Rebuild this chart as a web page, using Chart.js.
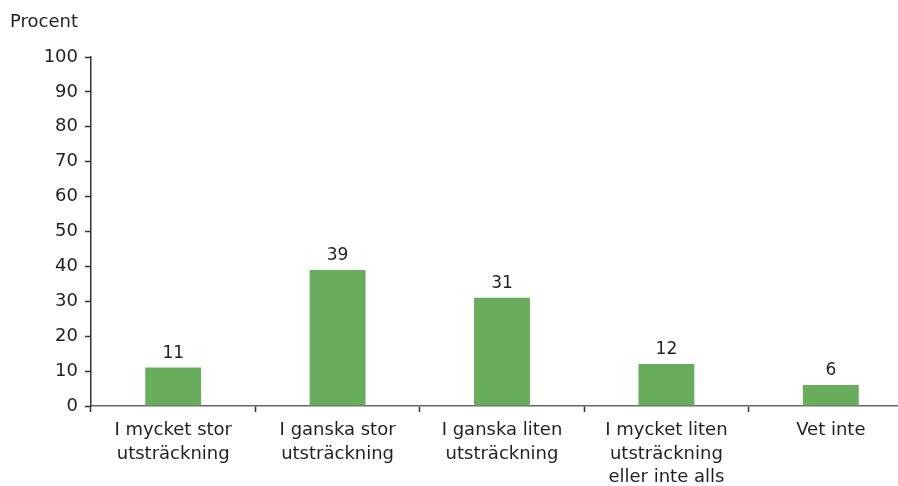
<!DOCTYPE html>
<html>
<head>
	<title>Procent</title>
	<script src="https://cdn.jsdelivr.net/npm/chart.js"></script>
	<style>
		html, body { margin: 0; padding: 0; width: 898px; height: 486px; overflow: hidden; background: #fff; }
		#wrap { width: 930px; height: 486px; }
	</style>
</head>
<body>
	<div id="wrap"><canvas id="myChart" width="930" height="486"></canvas></div>

	<script>
		const categories = [
			['I mycket stor', 'utsträckning'],
			['I ganska stor', 'utsträckning'],
			['I ganska liten', 'utsträckning'],
			['I mycket liten', 'utsträckning', 'eller inte alls'],
			['Vet inte']
		];
		const values = [11, 39, 31, 12, 6];
		const yTicks = [0, 10, 20, 30, 40, 50, 60, 70, 80, 90, 100];

		const textColor = '#231f20';
		const font = 'DejaVu Sans';

		// labels above the bars and the "Procent" caption
		const labelPlugin = {
			id: 'labels',
			afterDatasetsDraw(chart) {
				const ctx = chart.ctx;
				ctx.save();
				ctx.fillStyle = textColor;
				ctx.font = '17px "' + font + '"';
				ctx.textAlign = 'center';
				ctx.textBaseline = 'bottom';
				chart.getDatasetMeta(0).data.forEach((bar, i) => {
					ctx.fillText(values[i], bar.x, bar.y - 6);
				});
				ctx.font = '18px "' + font + '"';
				ctx.textAlign = 'left';
				ctx.textBaseline = 'middle';
				ctx.fillText('Procent', 10, 22);
				ctx.restore();
			}
		};

		const ctx = document.getElementById('myChart').getContext('2d');
		const chart = new Chart(ctx, {
			type: 'bar',
			data: {
				labels: categories,
				datasets: [{
					data: values,
					backgroundColor: '#68ad5c',
					barPercentage: 0.34,
					categoryPercentage: 1
				}]
			},
			options: {
				responsive: false,
				animation: false,
				layout: { padding: { top: 57, right: 17, left: 0, bottom: 0 } },
				plugins: {
					legend: { display: false },
					tooltip: { enabled: false }
				},
				scales: {
					x: {
						afterFit(scale) { scale.height = 80; },
						grid: {
							display: true,
							drawOnChartArea: false,
							offset: true,
							tickLength: 6,
							tickColor: '#333',
							tickWidth: 1.5
						},
						border: { color: '#666', width: 1.5 },
						ticks: {
							color: textColor,
							padding: 7,
							font: { family: font, size: 18, lineHeight: 1.3 },
							maxRotation: 0,
							autoSkip: false
						}
					},
					y: {
						min: 0,
						max: 100,
						afterFit(scale) { scale.width = 91; },
						afterBuildTicks(scale) { scale.ticks = yTicks.map(v => ({ value: v })); },
						grid: {
							display: true,
							drawOnChartArea: false,
							tickLength: 6,
							tickColor: '#333',
							tickWidth: 1.5
						},
						border: { color: '#333', width: 1.5 },
						ticks: {
							color: textColor,
							padding: 7,
							font: { family: font, size: 18 }
						}
					}
				}
			},
			plugins: [labelPlugin]
		});
	</script>
</body>
</html>
